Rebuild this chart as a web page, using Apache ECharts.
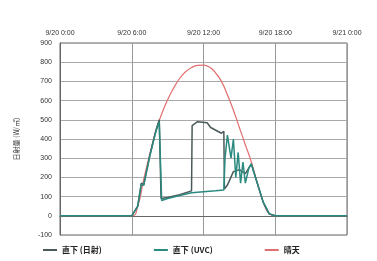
<!DOCTYPE html>
<html>
<head>
<meta charset="utf-8">
<script src="https://cdn.jsdelivr.net/npm/echarts@6/dist/echarts.min.js"></script>
<style>
  html, body { margin: 0; padding: 0; background: #fff; }
  #charts { width: 377px; height: 261px; }
</style>
</head>
<body>
<div id="charts"></div>
<script>
// hours from 9/20 0:00
var xTicks = ['9/20 0:00', '9/20 6:00', '9/20 12:00', '9/20 18:00', '9/21 0:00'];
var seriesNames = ['直下 (日射)', '直下 (UVC)', '晴天'];

var directSolar = [
    [0, 0], [6, 0], [6.5, 50], [6.8, 170], [7, 160], [7.5, 310], [8, 440], [8.3, 500],
    [8.45, 90], [9, 95], [10, 110], [11, 130], [11.05, 470], [11.5, 490], [12.3, 485],
    [12.6, 460], [13.5, 430], [13.7, 440], [13.75, 140], [14, 160], [14.5, 230],
    [15, 240], [15.5, 220], [16, 270], [16.5, 170], [17, 70], [17.5, 10], [18, 0], [24, 0]
];
var directUvc = [
    [0, 0], [6, 0], [6.5, 50], [6.8, 165], [7, 160], [7.5, 310], [8, 435], [8.3, 490],
    [8.5, 80], [9, 90], [10, 105], [11, 120], [12, 125], [13, 130], [13.7, 135],
    [13.8, 300], [14, 420], [14.3, 300], [14.5, 400], [14.7, 200], [14.9, 330],
    [15.1, 170], [15.3, 280], [15.5, 170], [15.8, 250], [16, 270], [16.5, 170],
    [17, 70], [17.5, 10], [18, 0], [24, 0]
];
var clearSky = [
    [0, 0], [6, 0], [6.5, 50], [7, 190], [7.5, 320], [8, 440], [8.5, 530], [9, 605],
    [9.5, 665], [10, 715], [10.5, 750], [11, 772], [11.5, 783], [12, 785], [12.5, 775],
    [13, 745], [13.5, 700], [14, 630], [14.5, 550], [15, 460], [15.5, 370], [16, 280],
    [16.5, 170], [17, 70], [17.5, 10], [18, 0], [24, 0]
];

var myChart = echarts.init(document.getElementById('charts'));
var option = {
    animation: false,
    color: ['#4a5a5a', '#2a8a80', '#e07070'],
    grid: {
        left: 60, right: 30, top: 43, bottom: 26,
        show: true, borderColor: '#666', borderWidth: 1
    },
    legend: {
        data: seriesNames,
        left: 38, bottom: 2,
        itemWidth: 14, itemHeight: 2, itemGap: 52,
        icon: 'rect',
        textStyle: { fontSize: 8, color: '#222', fontWeight: 'bold', fontFamily: 'Noto Sans CJK JP' }
    },
    xAxis: {
        type: 'value', position: 'top',
        min: 0, max: 24, interval: 6,
        axisLine: { lineStyle: { color: '#666' } },
        axisTick: { show: false },
        axisLabel: {
            fontSize: 7, color: '#333', margin: 6,
            formatter: function (v) { return xTicks[v / 6]; }
        },
        splitLine: { lineStyle: { color: '#999', width: 1 } }
    },
    yAxis: {
        type: 'value', min: -100, max: 900, interval: 100,
        name: '日射量 (W/㎡)', nameLocation: 'middle', nameGap: 40, nameRotate: 90,
        nameTextStyle: { fontSize: 7, color: '#333', fontFamily: 'Noto Sans CJK JP' },
        axisLine: { show: true, lineStyle: { color: '#666' } },
        axisTick: { show: false },
        axisLabel: { fontSize: 7, color: '#333', margin: 8 },
        splitLine: { lineStyle: { color: '#aaa', width: 1 } }
    },
    series: [
        { name: seriesNames[0], type: 'line', data: directSolar, showSymbol: false, lineStyle: { width: 1.5 }, z: 3 },
        { name: seriesNames[1], type: 'line', data: directUvc, showSymbol: false, lineStyle: { width: 1.5 }, z: 4 },
        { name: seriesNames[2], type: 'line', data: clearSky, showSymbol: false, smooth: true, lineStyle: { width: 1.2 }, z: 2 }
    ]
};
myChart.setOption(option);
</script>
</body>
</html>
